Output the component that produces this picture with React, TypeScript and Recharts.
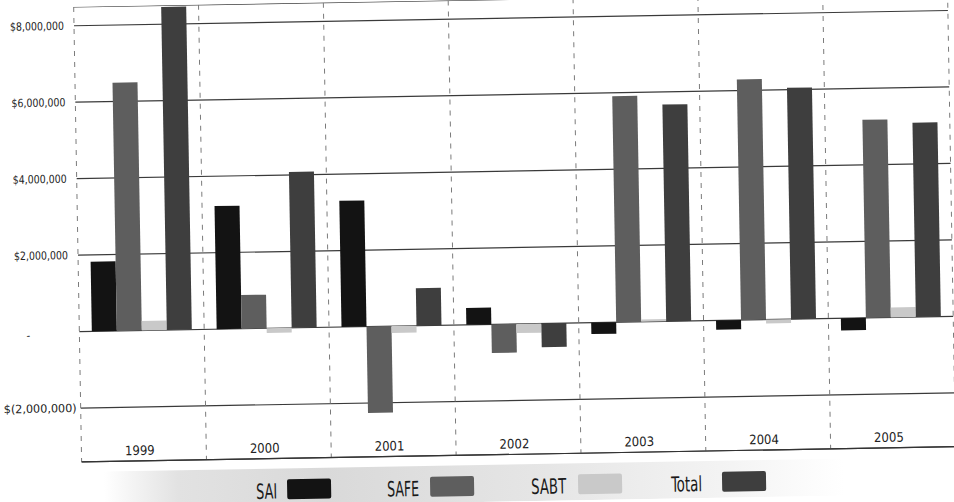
import { Bar, BarChart, CartesianGrid, XAxis, YAxis } from "recharts";

const years = ["1999", "2000", "2001", "2002", "2003", "2004", "2005"];
const sai = [1820000, 3220000, 3300000, 440000, -300000, -240000, -320000];
const safe = [6490000, 880000, -2260000, -750000, 5910000, 6290000, 5180000];
const sabt = [250000, -120000, -180000, -240000, 60000, -100000, 260000];
const total = [8450000, 4080000, 980000, -620000, 5670000, 6050000, 5080000];
const yTicks = [-2000000, 0, 2000000, 4000000, 6000000, 8000000];

const data = years.map((year, i) => ({
  year,
  SAI: sai[i],
  SAFE: safe[i],
  SABT: sabt[i],
  Total: total[i],
}));

const series = [
  { key: "SAI", color: "#131313" },
  { key: "SAFE", color: "#5e5e5e" },
  { key: "SABT", color: "#c9c9c9" },
  { key: "Total", color: "#3e3e3e" },
];

// legend item placement (text start, text width, swatch start)
const legendLayout = [
  { text: 252, width: 21, swatch: 283 },
  { text: 383, width: 32, swatch: 426 },
  { text: 527, width: 35, swatch: 574 },
  { text: 667, width: 31, swatch: 718 },
];

const FONT = "'Liberation Sans Narrow', 'DejaVu Sans Condensed', sans-serif";

function money(v: number) {
  if (v === 0) return "-";
  const s = Math.abs(v).toLocaleString("en-US");
  return v < 0 ? `$(${s})` : `$${s}`;
}

function MoneyTick({ x, y, payload }: any) {
  const v = payload.value as number;
  if (v === 0) {
    return (
      <text x={x - 43} y={y} dy={7} fontSize={11.5} fill="#222" fontFamily={FONT} textAnchor="middle">
        -
      </text>
    );
  }
  return (
    <text
      x={v < 0 ? x + 4 : x - 2}
      y={y}
      dy={4}
      fontSize={11.5}
      fill="#222"
      fontFamily={FONT}
      textAnchor="end"
      textLength={v < 0 ? 73 : 54}
      lengthAdjust="spacingAndGlyphs"
    >
      {money(v)}
    </text>
  );
}

function YearTick({ x, y, payload }: any) {
  return (
    <text x={x - 4} y={y} dy={-14} fontSize={13} fill="#222" fontFamily={FONT} textAnchor="middle">
      {payload.value}
    </text>
  );
}

function LegendBand() {
  return (
    <svg width={954} height={47} style={{ position: "absolute", left: 0, top: 455, display: "block" }}>
      <defs>
        <linearGradient id="band" x1="0" x2="1" y1="0" y2="0">
          <stop offset="0%" stopColor="#ffffff" />
          <stop offset="10%" stopColor="#e2e2e2" />
          <stop offset="30%" stopColor="#d9d9d9" />
          <stop offset="60%" stopColor="#e6e6e6" />
          <stop offset="85%" stopColor="#f4f4f4" />
          <stop offset="100%" stopColor="#ffffff" />
        </linearGradient>
      </defs>
      <rect x={100} y={10} width={740} height={37} fill="url(#band)" />
      {series.map((s, i) => {
        const l = legendLayout[i];
        return (
          <g key={s.key}>
            <text
              x={l.text}
              y={40}
              fontSize={21}
              fill="#1a1a1a"
              fontFamily={FONT}
              textLength={l.width}
              lengthAdjust="spacingAndGlyphs"
            >
              {s.key}
            </text>
            <rect x={l.swatch} y={21} width={44} height={20} rx={2} fill={s.color} />
          </g>
        );
      })}
    </svg>
  );
}

export default function App() {
  return (
    <div style={{ position: "absolute", left: 0, top: 0, width: 954, height: 502, transform: "rotate(-1deg)" }}>
      <BarChart
        width={954}
        height={502}
        data={data}
        margin={{ top: 0, right: 2, bottom: 0, left: 0 }}
        barCategoryGap="10%"
        barGap={0}
      >
        <CartesianGrid vertical={false} stroke="#3a3a3a" strokeWidth={1.2} />
        <CartesianGrid
          horizontal={false}
          stroke="#7a7a7a"
          strokeDasharray="5 6"
          verticalCoordinatesGenerator={({ offset }: any) =>
            Array.from({ length: years.length + 1 }, (_, i) => offset.left + (i * offset.width) / years.length)
          }
        />
        <XAxis
          dataKey="year"
          height={47}
          axisLine={{ stroke: "#333", strokeWidth: 1.2 }}
          tickLine={false}
          tick={<YearTick />}
          interval={0}
        />
        <YAxis
          width={78}
          domain={[-3410000, 8490000]}
          ticks={yTicks}
          axisLine={false}
          tickLine={false}
          tick={<MoneyTick />}
          interval={0}
        />
        {series.map((s) => (
          <Bar key={s.key} dataKey={s.key} fill={s.color} isAnimationActive={false} />
        ))}
      </BarChart>
      <LegendBand />
    </div>
  );
}
